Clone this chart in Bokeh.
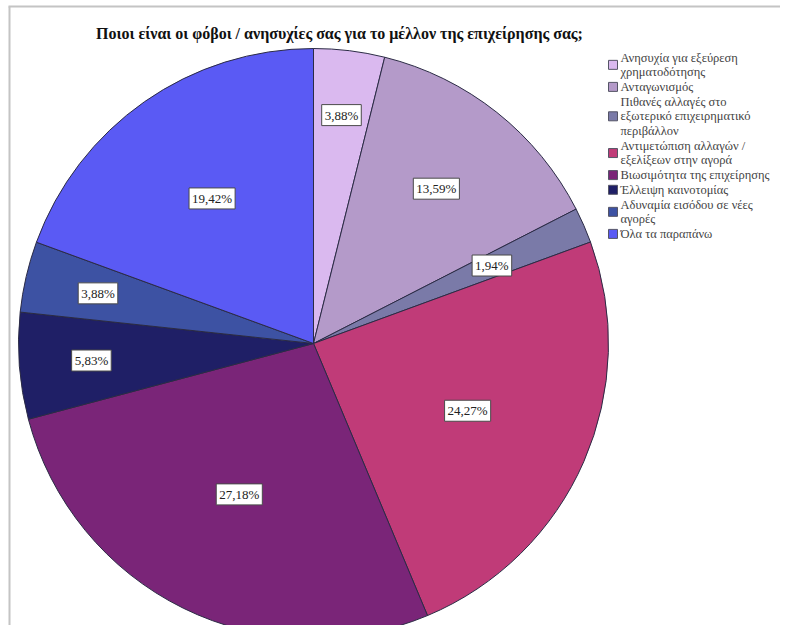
import numpy as np
from bokeh.plotting import figure
from bokeh.models import Range1d, ColumnDataSource
from bokeh.core.properties import value
from bokeh.embed import file_html
from bokeh.resources import INLINE

# ---- data ----
title_text = "Ποιοι είναι οι φόβοι / ανησυχίες σας για το μέλλον της επιχείρησης σας;"
categories = [
    "Ανησυχία για εξεύρεση\nχρηματοδότησης",
    "Ανταγωνισμός",
    "Πιθανές αλλαγές στο\nεξωτερικό επιχειρηματικό\nπεριβάλλον",
    "Αντιμετώπιση αλλαγών /\nεξελίξεων στην αγορά",
    "Βιωσιμότητα της επιχείρησης",
    "Έλλειψη καινοτομίας",
    "Αδυναμία εισόδου σε νέες\nαγορές",
    "Όλα τα παραπάνω",
]
values = [3.88, 13.59, 1.94, 24.27, 27.18, 5.83, 3.88, 19.42]

# ---- styles ----
colors = ["#dab9ef", "#b49ac9", "#7a7aa8", "#c03b78", "#7a2578",
          "#1f1f66", "#3d52a3", "#5a5af4"]
label_radius_factor = [0.78, 0.67, 0.66, 0.57, 0.57, 0.755, 0.75, 0.60]

W, H = 780, 625
IMG_H = 641
def Y(img_y):
    return IMG_H - img_y

p = figure(width=W, height=H, output_backend="svg", toolbar_location=None,
           x_range=Range1d(0, W), y_range=Range1d(IMG_H - H, IMG_H),
           min_border=0, outline_line_color=None)
p.axis.visible = False
p.grid.visible = False
p.background_fill_color = "white"
p.border_fill_color = "white"

# frame lines
p.line(x=[9, 9], y=[Y(6), Y(641)], line_color="#c4c4c4", line_width=2)
p.line(x=[8, 796], y=[Y(6), Y(6)], line_color="#c4c4c4", line_width=2)

# pie
cx, cy, R = 313, Y(343), 295
vals = np.array(values, dtype=float)
frac = vals / vals.sum()
cum = np.concatenate([[0], np.cumsum(frac)])
start = np.pi / 2 - 2 * np.pi * cum[:-1]
end = np.pi / 2 - 2 * np.pi * cum[1:]
src = ColumnDataSource(dict(start=start, end=end, color=colors))
p.wedge(x=cx, y=cy, radius=R, start_angle="start", end_angle="end",
        direction="clock", fill_color="color", line_color="#2b2b45",
        line_width=1, source=src)

# percentage labels
mid = 2 * np.pi * (cum[:-1] + cum[1:]) / 2
rf = np.array(label_radius_factor)
lx = cx + rf * R * np.sin(mid)
ly = cy + rf * R * np.cos(mid)
lbl = [f"{v:.2f}".replace(".", ",") + "%" for v in values]
p.text(x=lx, y=ly, text=lbl, text_align="center", text_baseline="middle",
       text_font=value("Liberation Serif"), text_font_size="13px",
       text_color="#222222", background_fill_color="white",
       border_line_color="#4a4a4a", border_line_width=1, padding=3)

# title
p.text(x=[339], y=[Y(33)], text=[title_text], text_align="center",
       text_baseline="middle", text_font=value("Liberation Serif"),
       text_font_size="16px", text_font_style="bold", text_color="#111111")

# legend (manual)
line_h = 14.7
y0 = 57
k = 0
by, tys, tl = [], [], []
for cat in categories:
    lines = cat.split("\n")
    ys = [y0 + line_h * (k + i) for i in range(len(lines))]
    k += len(lines)
    by.append(Y(sum(ys) / len(ys)))
    for t, yy in zip(lines, ys):
        tl.append(t)
        tys.append(Y(yy))
p.rect(x=[612.5] * len(by), y=by, width=9, height=9, fill_color=colors,
       line_color="#555566", line_width=1)
p.text(x=[620] * len(tl), y=tys, text=tl, text_align="left",
       text_baseline="middle", text_font=value("Liberation Serif"),
       text_font_size="12.5px", text_color="#444444")

open("out.html", "w").write(file_html(p, INLINE))
